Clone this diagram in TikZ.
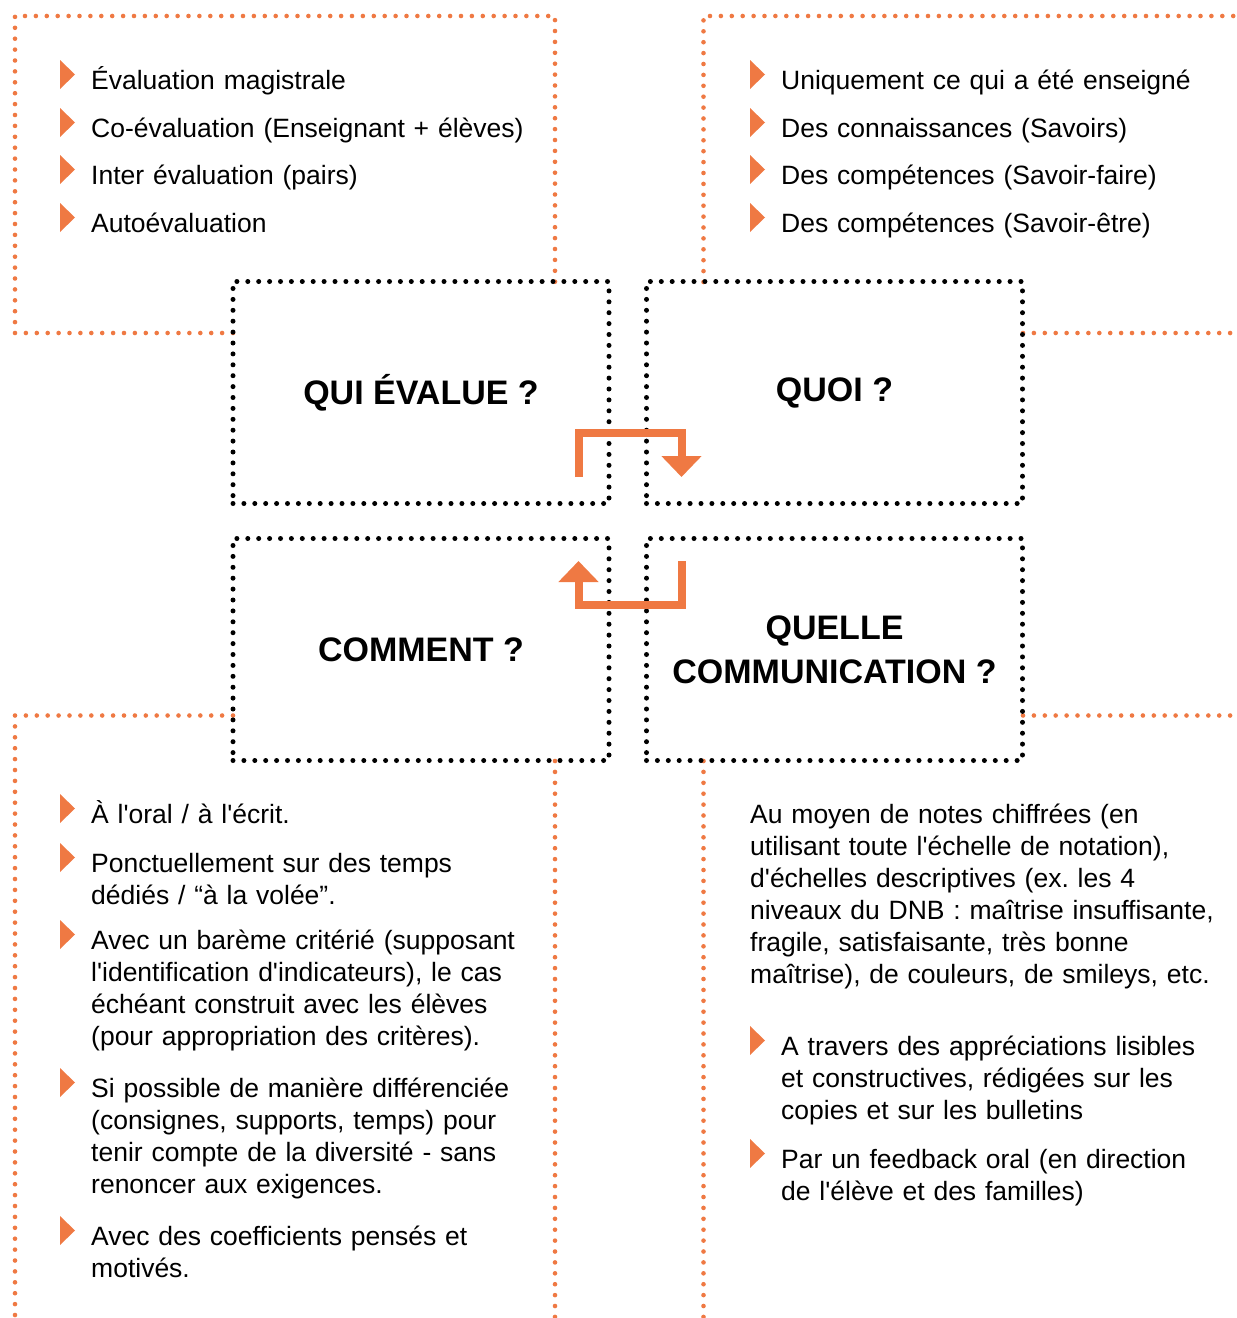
\documentclass[tikz,border=0pt]{standalone}
\usepackage{fontspec}
\usepackage{tikz}
\usetikzlibrary{arrows.meta}
\newfontfamily\corps{Liberation Sans}
\definecolor{orangeeval}{RGB}{239,121,67}
\frenchspacing
\tikzset{
    cadre/.style={draw=black, line width=5pt, dash pattern=on 0pt off 10.9pt, line cap=round,
        minimum width=376pt, minimum height=222pt, inner sep=0pt, align=center,
        font=\corps\bfseries\fontsize{34}{44}\selectfont},
    pointille/.style={draw=orangeeval, line width=4.6pt, dash pattern=on 0pt off 10.9pt, line cap=round},
    texte/.style={anchor=base west, inner sep=0pt, align=left, text width=470pt,
        font=\corps\fontsize{26.5}{32}\selectfont},
    puce/.style={fill=orangeeval},
    fleche/.style={draw=orangeeval, line width=8pt, -{Triangle[width=39pt,length=21pt]}}
}
\begin{document}
\begin{tikzpicture}[x=1pt,y=-1pt]
                    \useasboundingbox (0,0) rectangle (1237,1318);

                    \draw[pointille] (233,333) -- (15,333) -- (15,16) -- (555,16) -- (555,282);
                    \draw[pointille] (703.5,282) -- (703.5,16) -- (1237,16);
                    \draw[pointille] (1023,333) -- (1237,333);
                    \draw[pointille] (233,715.5) -- (15,715.5) -- (15,1318);
                    \draw[pointille] (555,761) -- (555,1318);
                    \draw[pointille] (1023,715.5) -- (1237,715.5);
                    \draw[pointille] (703.5,761) -- (703.5,1318);

                    \node[cadre] (qui) at (421,392.5) {QUI ÉVALUE ?};
                    \node[cadre] (quoi) at (834.5,392.5) {\raisebox{-3pt}{QUOI ?}};
                    \node[cadre] (comment) at (421,649.5) {\raisebox{-2pt}{COMMENT ?}};
                    \node[cadre] (communication) at (834.5,649.5) {QUELLE\\COMMUNICATION ?};

                    \coordinate (qui-depart) at (578.5,477);
                    \coordinate (quoi-arrivee) at (681.5,477);
                    \coordinate (comm-depart) at (681.5,561);
                    \coordinate (comment-arrivee) at (578.5,561);
                    \draw[fleche] (qui-depart) -- ++(0,-44) -| (quoi-arrivee);
                    \draw[fleche] (comm-depart) -- ++(0,44) -| (comment-arrivee);

                    \node[texte] (qui1) at (91,89) {Évaluation magistrale};
                    \node[texte] (qui2) at (91,137) {Co-évaluation (Enseignant + élèves)};
                    \node[texte] (qui3) at (91,184) {Inter évaluation (pairs)};
                    \node[texte] (qui4) at (91,232) {Autoévaluation};

                    \node[texte] (quoi1) at (781,89) {Uniquement ce qui a été enseigné};
                    \node[texte] (quoi2) at (781,137) {Des connaissances (Savoirs)};
                    \node[texte] (quoi3) at (781,184) {Des compétences (Savoir-faire)};
                    \node[texte] (quoi4) at (781,232) {Des compétences (Savoir-être)};

                    \node[texte] (comment1) at (91,823) {À l'oral / à l'écrit.};
                    \node[texte] (comment2) at (91,872) {Ponctuellement sur des temps\\dédiés / “à la volée”.};
                    \node[texte] (comment3) at (91,949) {Avec un barème critérié (supposant\\l'identification d'indicateurs), le cas\\échéant construit avec les élèves\\(pour appropriation des critères).};
                    \node[texte] (comment4) at (91,1097) {Si possible de manière différenciée\\(consignes, supports, temps) pour\\tenir compte de la diversité - sans\\renoncer aux exigences.};
                    \node[texte] (comment5) at (91,1245) {Avec des coefficients pensés et\\motivés.};

                    \node[texte] (comm0) at (750,823) {Au moyen de notes chiffrées (en\\utilisant toute l'échelle de notation),\\d'échelles descriptives (ex. les 4\\niveaux du DNB : maîtrise insuffisante,\\fragile, satisfaisante, très bonne\\maîtrise), de couleurs, de smileys, etc.};
                    \node[texte] (comm1) at (781,1055) {A travers des appréciations lisibles\\et constructives, rédigées sur les\\copies et sur les bulletins};
                    \node[texte] (comm2) at (781,1168) {Par un feedback oral (en direction\\de l'élève et des familles)};

                    \foreach \n in {qui1,qui2,qui3,qui4,quoi1,quoi2,quoi3,quoi4,comment1,comment2,comment3,comment4,comment5,comm1,comm2}
                        \fill[puce] ([xshift=-31pt]\n.base west) -- ++(0,-29) -- ++(15,14.5) -- cycle;
                \end{tikzpicture}
\end{document}
